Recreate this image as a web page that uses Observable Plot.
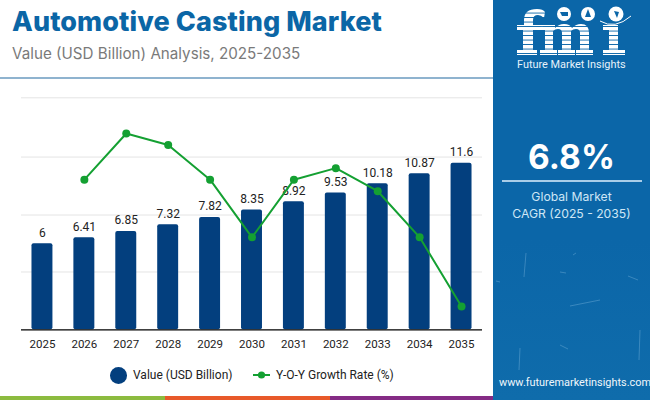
<!DOCTYPE html>
<html>
<head>
<meta charset="utf-8">
<script src="https://cdn.jsdelivr.net/npm/d3@7"></script>
<script src="https://cdn.jsdelivr.net/npm/@observablehq/plot@0.6"></script>
<style>
html,body{margin:0;padding:0;background:#fff;width:650px;height:400px;overflow:hidden}
#page{position:relative;width:650px;height:400px;overflow:hidden}
.abs{position:absolute;white-space:nowrap}
#chart{position:absolute;left:0;top:0}
#chart svg{display:block;background:transparent}
</style>
</head>
<body>
<div id="page">
  <div class="abs" style="left:12px;top:5px;font:800 27px Inter;color:#0b66a6;letter-spacing:0.1px" id="title">Automotive Casting Market</div>
  <div class="abs" style="left:12px;top:44px;font:400 15.2px Inter;color:#7a7a7a" id="subtitle">Value (USD Billion) Analysis, 2025-2035</div>
  <div class="abs" style="left:0;top:77px;width:493px;height:2px;background:#8fb3cf"></div>
  <div id="chart"></div>

  <div class="abs" style="left:110px;top:366.5px;width:17.4px;height:17px;border-radius:50%;background:#033f7e"></div>
  <div class="abs" style="left:133px;top:368px;font:400 12px Roboto;color:#222">Value (USD Billion)</div>
  <svg class="abs" style="left:253px;top:370px" width="18" height="10"><line x1="0" x2="17" y1="5" y2="5" stroke="#14a032" stroke-width="2"/><circle cx="8.5" cy="5" r="3.6" fill="#14a032"/></svg>
  <div class="abs" style="left:276px;top:368px;font:400 12px Roboto;color:#222">Y-O-Y Growth Rate (%)</div>

  <div class="abs" style="left:0;top:396px;width:165px;height:4px;background:#8cbb3f"></div>
  <div class="abs" style="left:165px;top:396px;width:165px;height:4px;background:#e8592a"></div>
  <div class="abs" style="left:330px;top:396px;width:165px;height:4px;background:#852b85"></div>

  <div class="abs" style="left:493px;top:0;width:157px;height:400px;background:linear-gradient(180deg,#0b66a8 0%,#0b66a8 60%,#0f6cab 100%)"></div>
  <svg class="abs" style="left:493px;top:0" width="157" height="400">
    <defs><pattern id="st" width="4" height="4.5" patternUnits="userSpaceOnUse"><rect width="4" height="3.6" fill="#fff"/></pattern></defs>
    <g transform="translate(-493,0)">
      <path fill="url(#st)" d="M517 25h7v-5q0-11 13-11q6 0 8 3l-1 6q-3-3-6-3q-5 0-5 5v5h10v5h-10v20h4v5h-20v-5h6v-20h-6z"/>
      <path fill="url(#st)" d="M541 25h14v3q4-4 9-4q6 0 8 4q4-4 9-4q8 0 8 9v17h4v5h-17v-5h4v-17q0-4-4-4q-3 0-5 2v19h4v5h-17v-5h4v-17q0-4-4-4q-3 0-5 2v19h4v5h-17v-5h5v-20h-5z"/>
      <path fill="url(#st)" d="M603 25h15v25h7v5h-22v-5h6v-20h-6z"/>
      <circle cx="564" cy="14" r="7" fill="#fff"/><circle cx="588" cy="14" r="7" fill="#fff"/><circle cx="616" cy="14" r="7.5" fill="#fff"/>
      <path d="M 600 21 Q 615 30 631 16" fill="none" stroke="#fff" stroke-width="1"/>
      <path d="M 560 12 l 8 0 l 0 4 l -6 0 z M 588 9 l 3 8 l -6 0 z M 614 11 l 5 1 l -2 6 z" fill="#0b66a8"/>
      <g stroke="#8fc3e6" stroke-opacity="0.35" stroke-width="1" fill="none">
        <path d="M526 253l-2 24M576 253l-3 2M496 281l4 1M628 276l10 4M560 272l6 1M520 348l-1 22M600 300l-30 6M640 330l-1 30M560 345l8 4"/>
      </g>
    </g>
  </svg>
  <div class="abs" style="left:517px;top:58px;font:400 10.9px Roboto;color:#e6f2fb" id="logoName">Future Market Insights</div>
  <div class="abs" style="left:493px;width:157px;top:137px;text-align:center;font:700 33.5px Inter;color:#fff">6.8%</div>
  <div class="abs" style="left:502px;top:180px;width:140px;height:2px;background:#a9cde8"></div>
  <div class="abs" style="left:493px;width:157px;top:189px;text-align:center;font:400 12.2px Inter;color:#cfe6f6">Global Market</div>
  <div class="abs" style="left:493px;width:157px;top:206px;text-align:center;font:400 12.2px Inter;color:#cfe6f6">CAGR (2025 - 2035)</div>
  <div class="abs" style="left:499px;top:376px;font:400 10.9px Roboto;color:#f0f7fc" id="url">www.futuremarketinsights.com</div>
</div>
<script>
const years = ["2025","2026","2027","2028","2029","2030","2031","2032","2033","2034","2035"];
const values = [6,6.41,6.85,7.32,7.82,8.35,8.92,9.53,10.18,10.87,11.6];
const growthYears = years.slice(1);
const growth = [6.83,6.87,6.86,6.83,6.78,6.83,6.84,6.82,6.78,6.72];
const gridValues = [4.03,8.0,12.04,16.17];

const bars = years.map((year,i)=>({year,value:values[i]}));
// the growth line has its own hidden axis, laid over the value axis
const growthToValueAxis = d3.scaleLinear().domain([6.72,6.87]).range([1.62,13.68]);
const line = growthYears.map((year,i)=>({year,rate:growth[i],y:growthToValueAxis(growth[i])}));

const chart = Plot.plot({
  width:493,height:360,
  marginTop:97.3,marginBottom:30.7,marginLeft:21,marginRight:11,
  style:{fontFamily:"Roboto",background:"transparent",overflow:"visible"},
  x:{type:"band",domain:years,paddingInner:0.5,paddingOuter:0.25,round:false,label:null,axis:null},
  y:{domain:[0,16.17],label:null,axis:null},
  marks:[
    Plot.ruleY(gridValues,{stroke:"#e4e4e4",strokeWidth:1,strokeOpacity:1}),
    Plot.barY(bars,{x:"year",y:"value",fill:"#033f7e",rx:2}),
    Plot.ruleY([0],{stroke:"#000",strokeWidth:1.2}),
    Plot.text(bars,{x:"year",y:"value",text:d=>String(d.value),dy:-11,fontSize:12,fill:"#222"}),
    Plot.line(line,{x:"year",y:"y",stroke:"#14a032",strokeWidth:2}),
    Plot.dot(line,{x:"year",y:"y",r:4,fill:"#14a032"}),
    Plot.text(years,{x:d=>d,frameAnchor:"bottom",dy:15,text:d=>d,fontSize:11.5,fill:"#222",lineAnchor:"middle"})
  ]
});
document.getElementById("chart").appendChild(chart);
</script>
</body>
</html>
